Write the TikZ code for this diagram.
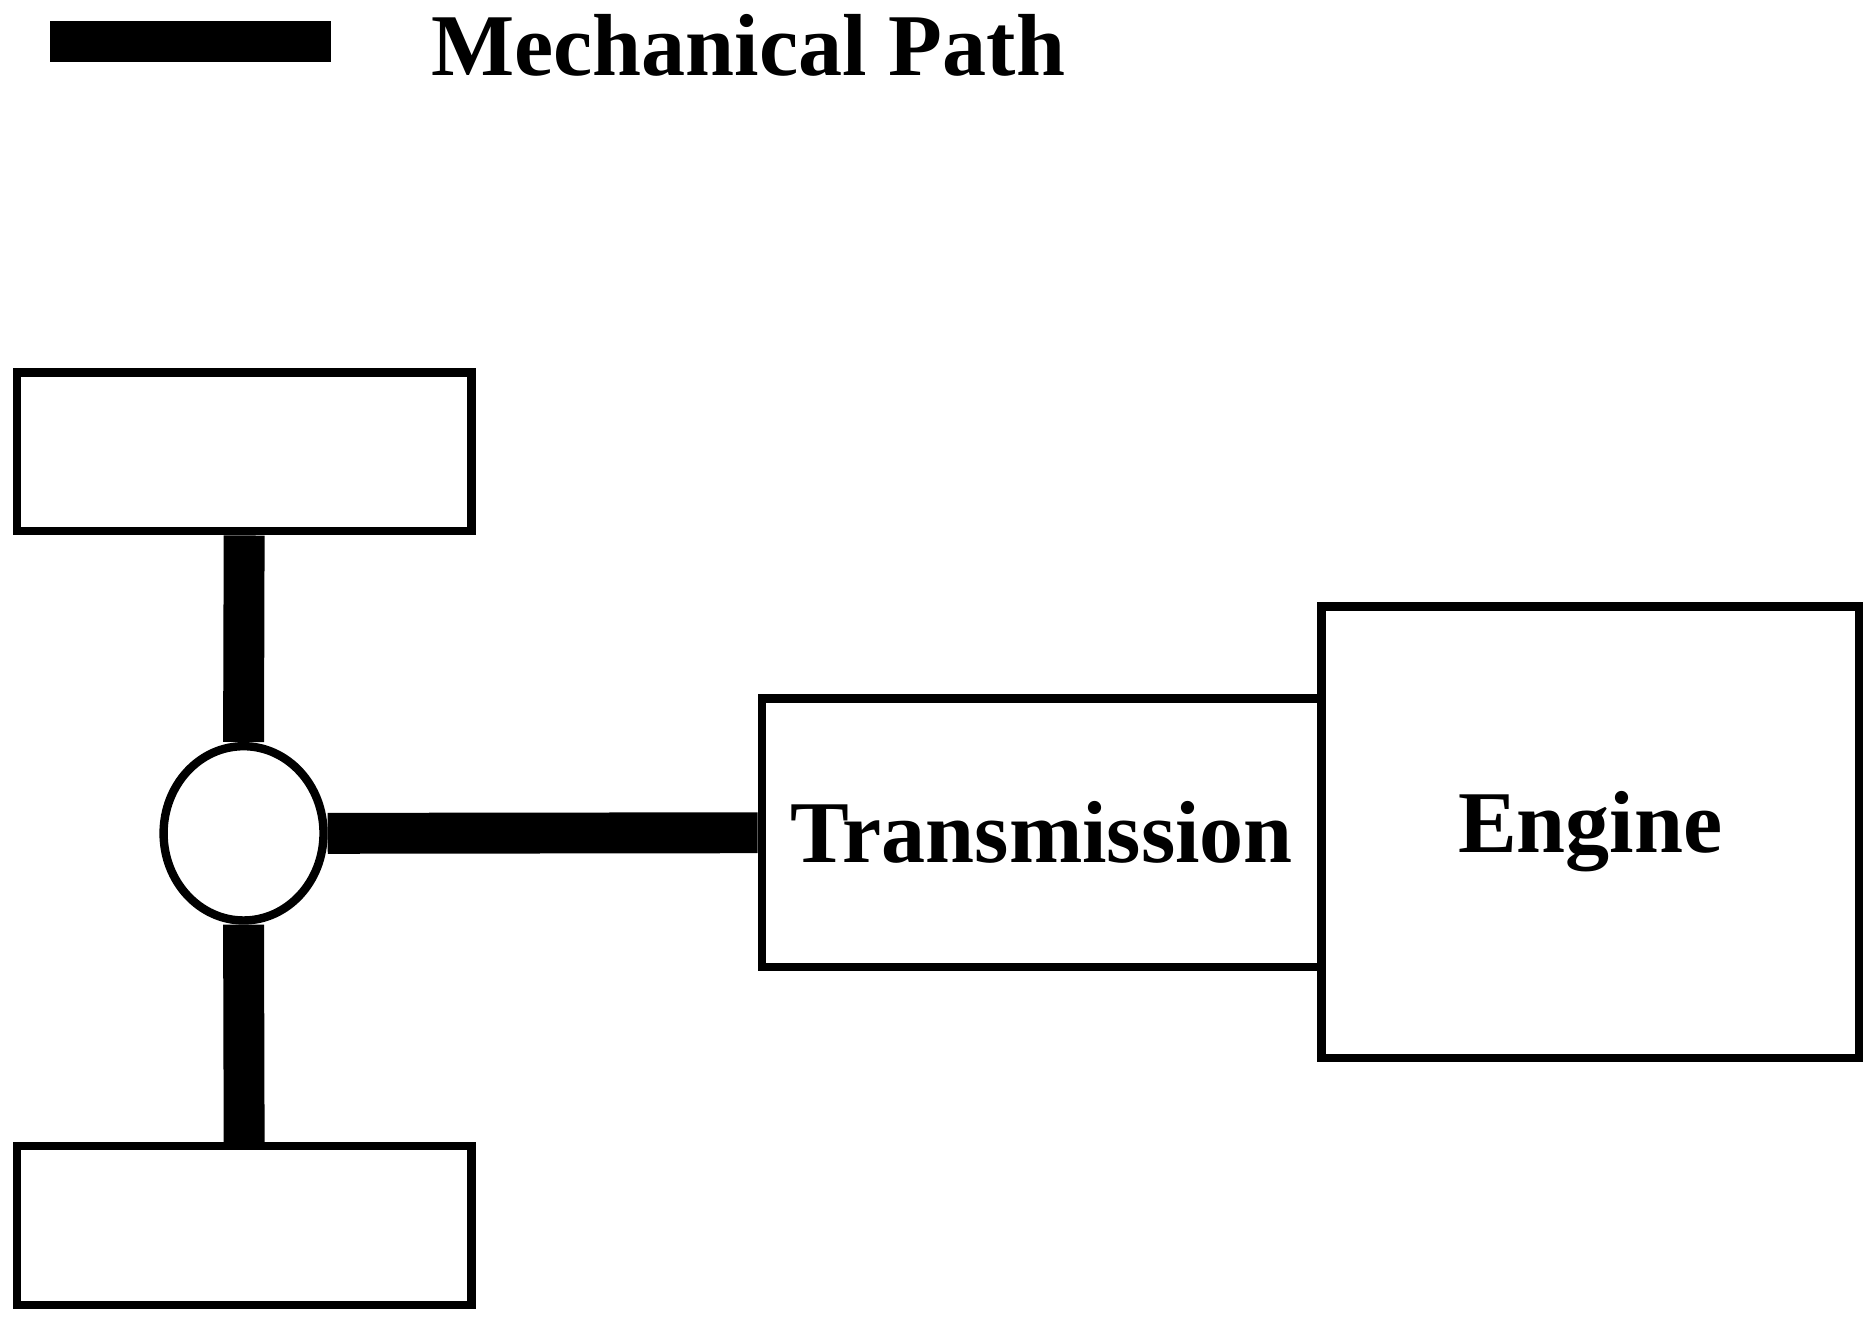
\documentclass[tikz,border=0pt]{standalone}
\usepackage{fontspec}
\setmainfont{Liberation Serif}
\usetikzlibrary{shapes.geometric}
\begin{document}
\begin{tikzpicture}[x=0.02cm,y=-0.02cm,
  box/.style={draw,line width=4pt,rectangle,inner sep=0pt},
  shaft/.style={line width=19.5pt},
  lbl/.style={font=\fontsize{42}{48}\selectfont\bfseries}]
\useasboundingbox (0,0) rectangle (1568,1106);
% legend
\coordinate (l1) at (42,35); \coordinate (l2) at (277,35);
\draw[shaft] (l1) -- (l2);
\node[lbl,anchor=west] (legend) at (355,38) {Mechanical Path};
% wheels
\node[box,minimum width=7.62cm,minimum height=2.66cm] (tw) at (204.5,378.5) {};
\node[box,minimum width=7.62cm,minimum height=2.66cm] (bw) at (204.5,1026.5) {};
% differential
\node[draw,line width=4pt,ellipse,minimum width=2.68cm,minimum height=2.92cm,inner sep=0pt] (diff) at (204,698) {};
% transmission and engine
\node[box,minimum width=9.38cm,minimum height=4.5cm,lbl] (tr) at (872.5,697.5) {Transmission};
\node[box,minimum width=9.0cm,minimum height=7.56cm,lbl] (en) at (1332,697) {Engine};
% shafts
\draw[shaft] (tw.south) -- (diff.north);
\draw[shaft] (diff.south) -- (bw.north);
\draw[shaft] (diff.east) -- (tr.west);
\end{tikzpicture}
\end{document}
